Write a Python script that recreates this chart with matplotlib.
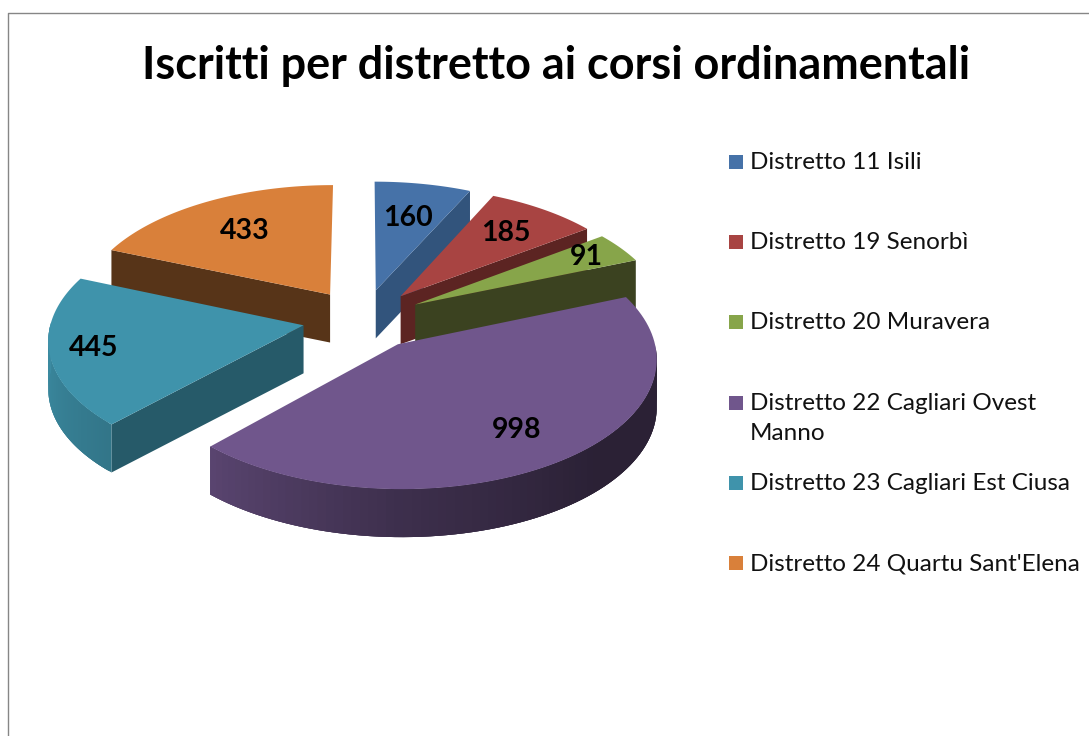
import matplotlib
matplotlib.use('Agg')
import matplotlib.pyplot as plt
import numpy as np
from matplotlib.patches import Rectangle

title = 'Iscritti per distretto ai corsi ordinamentali'
labels = ['Distretto 11 Isili', 'Distretto 19 Senorbì', 'Distretto 20 Muravera',
          'Distretto 22 Cagliari Ovest\nManno', 'Distretto 23 Cagliari Est Ciusa',
          "Distretto 24 Quartu Sant'Elena"]
values = [160, 185, 91, 998, 445, 433]
top_colors = ['#4672a8', '#a84442', '#87a54a', '#70568c', '#3f93ab', '#d9803a']
side_colors = ['#32547c', '#5c2422', '#3b4220', '#3d2f52', '#265a69', '#573418']
label_r = [0.66, 0.72, 0.83, 0.75, 0.83, 0.67]
legend_y = [162, 242, 322, 403, 483, 563]

# pie geometry, in pixels of the figure
cx, cy = 363, 319
R, Rt = 252, 125
persp = 0.10
explode = 0.24
depth = 48
font = 'Lato'


def project(u, v, drop=0):
    p = 1 / (1 + persp * v)
    return cx + R * u * p, cy - Rt * v * p + drop


def slice_xy(a, r, mid):
    u = explode * np.sin(mid) + r * np.sin(a)
    v = explode * np.cos(mid) + r * np.cos(a)
    return u, v


def rim_shade(deg):
    return np.interp(deg, [90, 135, 180, 223, 270], [0.38, 0.38, 0.55, 0.80, 0.95])


fig = plt.figure(figsize=(10.89, 7.36), dpi=100)
ax = fig.add_axes([0, 0, 1, 1])
ax.set_xlim(0, 1089)
ax.set_ylim(736, 0)
ax.axis('off')

# chart border: only left and top are inside the picture
ax.plot([8, 8, 1089], [736, 12.5, 12.5], color='#868686', lw=1)

ax.text(556, 66, title, fontsize=32.4, fontweight='bold', family=font,
        ha='center', va='center', color='black')

edges = np.cumsum([0] + values) / sum(values) * 2 * np.pi

# painter's order: back slices first
order = [5, 0, 1, 2, 4, 3]
for rank, i in enumerate(order):
    z = 2 * rank + 1
    a0, a1 = edges[i], edges[i + 1]
    mid = (a0 + a1) / 2
    arc = np.linspace(a0, a1, 90)
    u, v = slice_xy(arc, 1, mid)
    ux, vy = project(u, v)
    au, av = slice_xy(0, 0, mid)
    apx, apy = project(au, av)

    # flat cut faces, only those turned to the viewer
    for a, d in [(a0, a0 - np.pi / 2), (a1, a1 + np.pi / 2)]:
        if np.cos(d) < -1e-6:
            eu, ev = slice_xy(a, 1, mid)
            ex, ey = project(eu, ev)
            ax.fill([apx, ex, ex, apx], [apy, ey, ey + depth, apy + depth],
                    color=side_colors[i], lw=0, zorder=z)

    # outer rim with a stepped shade, each step overlaps the next to hide seams
    rgb = np.array(matplotlib.colors.to_rgb(top_colors[i]))
    for j in range(len(arc) - 1):
        deg = np.degrees(arc[j]) % 360
        if 90 < deg < 270:
            k = min(j + 3, len(arc) - 1)
            c = rgb * rim_shade(deg)
            xs = np.r_[ux[j:k + 1], ux[j:k + 1][::-1]]
            ys = np.r_[vy[j:k + 1], vy[j:k + 1][::-1] + depth]
            ax.fill(xs, ys, color=c, lw=0, zorder=z)

    # top surface
    ax.fill(np.r_[apx, ux], np.r_[apy, vy], color=top_colors[i], lw=0, zorder=z + 1)

# value labels
for i, val in enumerate(values):
    mid = (edges[i] + edges[i + 1]) / 2
    u, v = slice_xy(mid, label_r[i], mid)
    x, y = project(u, v)
    ax.text(x, y, str(val), fontsize=20.5, fontweight='bold', family=font,
            ha='center', va='center', color='black', zorder=20)

# legend
for lab, y, c in zip(labels, legend_y, top_colors):
    ax.add_patch(Rectangle((729, y - 7), 14, 14, color=c, lw=0))
    ax.text(749.5, y - 10, lab, fontsize=17.5, family=font, ha='left', va='top',
            color='#111111', linespacing=1.55)

fig.savefig('out.png', dpi=100)
